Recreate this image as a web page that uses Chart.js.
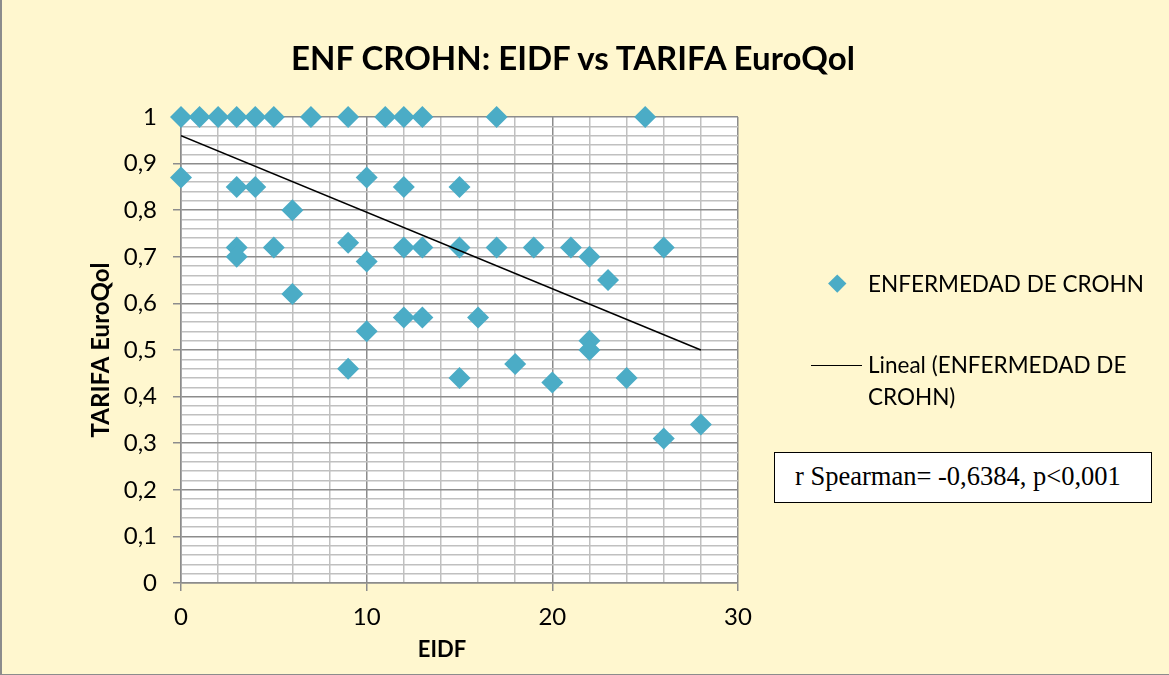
<!DOCTYPE html>
<html>
<head>
<meta charset="utf-8">
<script src="https://cdn.jsdelivr.net/npm/chart.js@4.4.0/dist/chart.umd.min.js"></script>
<style>
    html, body { margin: 0; padding: 0; }
    body { width: 1169px; height: 675px; overflow: hidden; background: #FFF7CF; }
    #wrap { position: relative; width: 1167px; height: 674px; border-left: 2px solid #8c8c8c; border-bottom: 1px solid #8c8c8c; }
    #chart { position: absolute; left: 0; top: 0; }
    .txt { position: absolute; font-family: Lato, 'Open Sans', sans-serif; color: #000; white-space: nowrap; }
    #title { left: 0; width: 1142px; top: 37px; text-align: center; font-size: 33px; font-weight: bold; line-height: 40px; }
    #xtitle { left: 340px; width: 200px; top: 634px; text-align: center; font-size: 22px; font-weight: bold; line-height: 30px; }
    .legend-text { font-size: 22.5px; line-height: 32px; }
    .diamond { position: absolute; width: 12.5px; height: 12.5px; background: #4BACC6; transform: rotate(45deg); }
    .line-sample { position: absolute; height: 0; border-top: 1.5px solid #000; }
    #note { position: absolute; left: 772px; top: 452px; width: 378px; height: 51px; background: #fff; border: 1.5px solid #000; box-sizing: border-box;
            font-family: 'Liberation Serif', 'Times New Roman', serif; font-size: 26.5px; line-height: 47px; padding-left: 20px; white-space: nowrap; }
</style>
</head>
<body>
<div id="wrap">
    <canvas id="chart" width="1167" height="674"></canvas>
    <div id="title" class="txt">ENF CROHN: EIDF vs TARIFA EuroQol</div>
    <div id="xtitle" class="txt">EIDF</div>
    <div class="diamond" style="left:829px; top:277px;"></div>
    <div class="txt legend-text" style="left:866px; top:268px;">ENFERMEDAD DE CROHN</div>
    <div class="line-sample" style="left:809px; top:365px; width:51px;"></div>
    <div class="txt legend-text" style="left:866px; top:349px;">Lineal (ENFERMEDAD DE<br>CROHN)</div>
    <div id="note">r Spearman= -0,6384, p&lt;0,001</div>
</div>
<script>
// EIDF vs TARIFA EuroQol (Crohn)
const eidf = [0, 1, 2, 3, 4, 5, 7, 9, 11, 12, 13, 17, 25,
    0, 3, 4, 6, 10, 12, 15,
    9, 3, 3, 5, 10, 12, 13, 15, 17, 19, 21, 22, 23, 26,
    6, 10, 12, 13, 16, 22, 22,
    9, 15, 18, 20, 24, 26, 28];
const tarifa = [1, 1, 1, 1, 1, 1, 1, 1, 1, 1, 1, 1, 1,
    0.87, 0.85, 0.85, 0.80, 0.87, 0.85, 0.85,
    0.73, 0.72, 0.70, 0.72, 0.69, 0.72, 0.72, 0.72, 0.72, 0.72, 0.72, 0.70, 0.65, 0.72,
    0.62, 0.54, 0.57, 0.57, 0.57, 0.52, 0.50,
    0.46, 0.44, 0.47, 0.43, 0.44, 0.31, 0.34];

// linear trend line (end points)
const trendX = [0, 28];
const trendY = [0.96, 0.50];

const xTickLabels = ['0', '10', '20', '30'];
const yTickLabels = ['0', '0,1', '0,2', '0,3', '0,4', '0,5', '0,6', '0,7', '0,8', '0,9', '1'];

const isMajorX = v => Math.abs(v / 10 - Math.round(v / 10)) < 1e-6;
const isMajorY = v => Math.abs(v * 10 - Math.round(v * 10)) < 1e-6;

const ctx = document.getElementById('chart').getContext('2d');
new Chart(ctx, {
    type: 'scatter',
    data: {
        datasets: [{
            label: 'ENFERMEDAD DE CROHN',
            data: eidf.map((x, i) => ({ x: x, y: tarifa[i] })),
            pointStyle: 'rectRot',
            pointRadius: 11,
            pointHoverRadius: 11,
            backgroundColor: '#4BACC6',
            borderColor: '#4BACC6',
            borderWidth: 0,
            clip: false,
            order: 2
        }, {
            type: 'line',
            label: 'Lineal (ENFERMEDAD DE CROHN)',
            data: trendX.map((x, i) => ({ x: x, y: trendY[i] })),
            borderColor: '#000',
            borderWidth: 1.5,
            pointRadius: 0,
            fill: false,
            order: 1
        }]
    },
    options: {
        responsive: false,
        animation: false,
        layout: {
            padding: { left: 81, right: 431, top: 117, bottom: 0 }
        },
        plugins: {
            legend: { display: false },
            tooltip: { enabled: false }
        },
        scales: {
            x: {
                type: 'linear',
                min: 0,
                max: 30,
                afterFit: function(scale) { scale.height = 91; },
                ticks: {
                    stepSize: 2,
                    padding: 12,
                    autoSkip: false,
                    maxRotation: 0,
                    color: '#000',
                    font: { family: 'Lato', size: 24 },
                    callback: function(v) { return isMajorX(v) ? xTickLabels[Math.round(v / 10)] : ''; }
                },
                grid: {
                    color: ctx => isMajorX(ctx.tick.value) ? '#8c8c8c' : '#c0c0c0',
                    tickColor: ctx => isMajorX(ctx.tick.value) ? '#8c8c8c' : 'rgba(0,0,0,0)',
                    lineWidth: 1.5,
                    tickLength: 8
                },
                border: { color: '#8c8c8c', width: 1.5 }
            },
            y: {
                type: 'linear',
                min: 0,
                max: 1,
                afterFit: function(scale) { scale.width = 98; },
                ticks: {
                    stepSize: 0.02,
                    padding: 16,
                    autoSkip: false,
                    color: '#000',
                    font: { family: 'Lato', size: 24 },
                    callback: function(v) { return isMajorY(v) ? yTickLabels[Math.round(v * 10)] : ''; }
                },
                grid: {
                    color: ctx => isMajorY(ctx.tick.value) ? '#8c8c8c' : '#c0c0c0',
                    tickColor: ctx => isMajorY(ctx.tick.value) ? '#8c8c8c' : 'rgba(0,0,0,0)',
                    lineWidth: 1.5,
                    tickLength: 8
                },
                border: { color: '#8c8c8c', width: 1.5 },
                title: {
                    display: true,
                    text: 'TARIFA EuroQol',
                    color: '#000',
                    padding: { top: 4, bottom: 4 },
                    font: { family: 'Lato', size: 24, weight: 'bold' }
                }
            }
        }
    },
    plugins: [{
        id: 'plotBg',
        beforeDraw: function(chart) {
            const a = chart.chartArea;
            const c = chart.ctx;
            c.save();
            c.fillStyle = '#ffffff';
            c.fillRect(a.left, a.top, a.right - a.left, a.bottom - a.top);
            c.restore();
        }
    }]
});
</script>
</body>
</html>
